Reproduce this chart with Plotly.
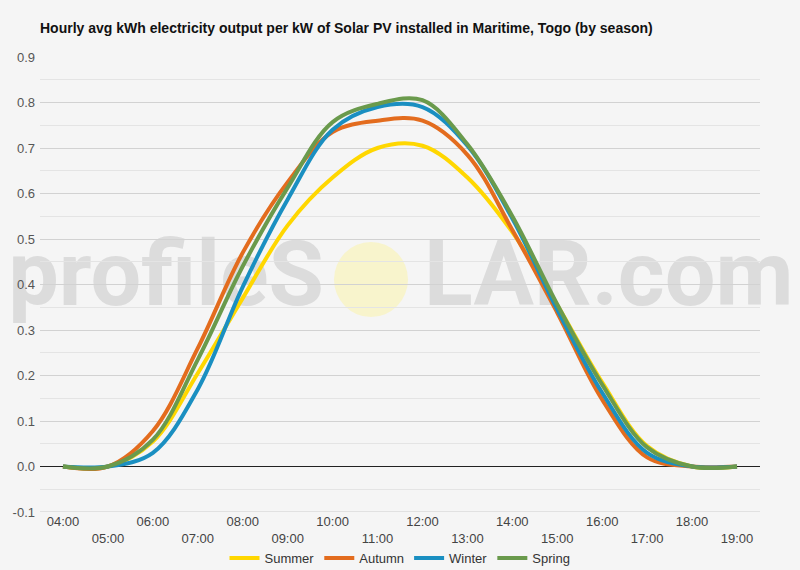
import plotly.graph_objects as go

hours = list(range(4, 20))
hour_labels = [f"{h:02d}:00" for h in hours]

summer = [0.0, 0.0, 0.055, 0.205, 0.37, 0.53, 0.635, 0.700, 0.705, 0.635, 0.515, 0.355, 0.185, 0.045, 0.0, 0.0]
autumn = [0.0, 0.0, 0.078, 0.260, 0.47, 0.625, 0.735, 0.760, 0.760, 0.685, 0.520, 0.338, 0.147, 0.020, 0.0, 0.0]
winter = [0.0, 0.0, 0.030, 0.170, 0.395, 0.587, 0.740, 0.790, 0.790, 0.705, 0.545, 0.345, 0.162, 0.030, 0.0, 0.0]
spring = [0.0, 0.0, 0.059, 0.235, 0.44, 0.613, 0.757, 0.797, 0.805, 0.708, 0.550, 0.356, 0.180, 0.042, 0.0, 0.0]

series = [
    ("Summer", summer, "#FFD700"),
    ("Autumn", autumn, "#E36C1E"),
    ("Winter", winter, "#1A8FC1"),
    ("Spring", spring, "#6A9A4C"),
]

title_text = "Hourly avg kWh electricity output per kW of Solar PV installed in Maritime, Togo (by season)"
y_ticks = [-0.1, 0.0, 0.1, 0.2, 0.3, 0.4, 0.5, 0.6, 0.7, 0.8, 0.9]

fig = go.Figure()
for name, vals, color in series:
    fig.add_trace(go.Scatter(
        x=hours, y=vals, name=name, mode="lines",
        line=dict(color=color, width=4, shape="spline", smoothing=1.0),
        hoverinfo="x+y+name",
    ))

ticktext = [lab if i % 2 == 0 else "<br>" + lab for i, lab in enumerate(hour_labels)]

fig.update_layout(
    width=800, height=570,
    margin=dict(l=40, r=40, t=57, b=58, autoexpand=False),
    paper_bgcolor="#f5f5f5",
    plot_bgcolor="rgba(0,0,0,0)",
    font=dict(family="Liberation Sans, Arial, sans-serif", size=13, color="#555555"),
    title=dict(text="<b>" + title_text + "</b>", x=40 / 800, xref="container", xanchor="left",
               y=1 - 28 / 570, yref="container", yanchor="middle",
               font=dict(size=14, color="#111111")),
    showlegend=True,
    legend=dict(orientation="h", x=0.5, xanchor="center", xref="container",
                y=1 - 558 / 570, yref="container", yanchor="middle",
                font=dict(size=13, color="#333333"),
                bgcolor="rgba(0,0,0,0)", itemwidth=30, tracegroupgap=0),
    xaxis=dict(range=[3.488, 19.512], tickmode="array", tickvals=hours, ticktext=ticktext,
               showgrid=False, zeroline=False, showline=False, ticks="", automargin=False,
               tickfont=dict(size=13, color="#444444"), fixedrange=True),
    yaxis=dict(range=[-0.1, 0.9], tickmode="array", tickvals=y_ticks,
               ticktext=[f"{v:.1f}" for v in y_ticks], automargin=False,
               showgrid=True, gridcolor="#d2d2d2", gridwidth=1,
               minor=dict(dtick=0.05, tick0=0, showgrid=True, gridcolor="#e4e4e4", gridwidth=1),
               zeroline=True, zerolinecolor="#222222", zerolinewidth=1,
               showline=False, ticks="", ticklabelstandoff=4,
               tickfont=dict(size=13, color="#555555"), fixedrange=True),
)

# bottom axis line at -0.1
fig.add_shape(type="line", xref="paper", yref="y", x0=0, x1=1, y0=-0.1, y1=-0.1,
              line=dict(color="#cccccc", width=1), layer="below")

# watermark
def px_to_paper_x(px):
    return (px - 40) / 720.0

def px_to_paper_y(py):
    return (512 - py) / 455.0

wm_color = "#dcdcdc"
wm_font = dict(family="Roboto, Liberation Sans, Arial, sans-serif", size=90, color=wm_color, weight="bold")
fig.add_shape(type="rect", xref="paper", yref="paper",
              x0=px_to_paper_x(4), x1=px_to_paper_x(327), y0=px_to_paper_y(322), y1=px_to_paper_y(212),
              line=dict(width=0), fillcolor="rgba(0,0,0,0)", layer="below",
              label=dict(text="profileS", textposition="middle right", padding=0, font=wm_font))
fig.add_shape(type="rect", xref="paper", yref="paper",
              x0=px_to_paper_x(421), x1=px_to_paper_x(796), y0=px_to_paper_y(322), y1=px_to_paper_y(212),
              line=dict(width=0), fillcolor="rgba(0,0,0,0)", layer="below",
              label=dict(text="LAR.com", textposition="middle left", padding=0, font=wm_font))
fig.add_shape(type="circle", xref="paper", yref="paper",
              x0=px_to_paper_x(334), x1=px_to_paper_x(408), y0=px_to_paper_y(317), y1=px_to_paper_y(242),
              line=dict(width=0), fillcolor="#f8f4cc", layer="below")

fig.write_html("out.html")
